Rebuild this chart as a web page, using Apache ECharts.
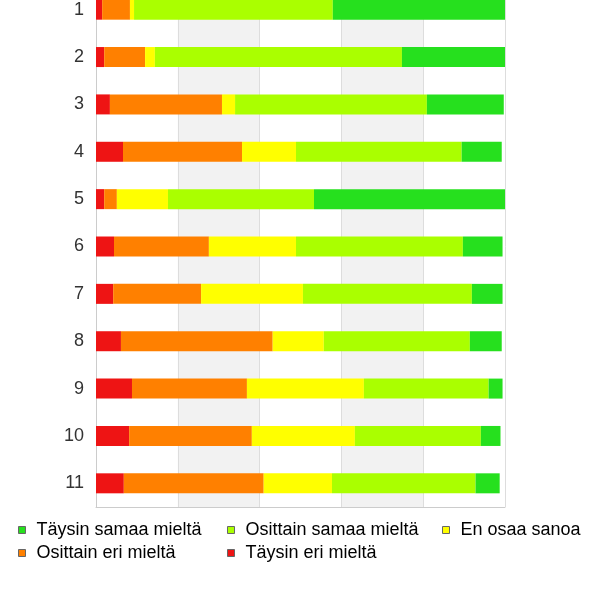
<!DOCTYPE html>
<html>
<head>
<meta charset="utf-8">
<script src="https://cdn.jsdelivr.net/npm/echarts@6/dist/echarts.min.js"></script>
<style>html,body{margin:0;padding:0;background:#fff;overflow:hidden;width:600px;height:600px;position:relative}#c{position:absolute;left:0;top:-14px;width:600px;height:614px}</style>
</head>
<body>
<div id="c"></div>
<script>
const categories = ['1','2','3','4','5','6','7','8','9','10','11'];
const seriesNames = ['Täysin eri mieltä','Osittain eri mieltä','En osaa sanoa','Osittain samaa mieltä','Täysin samaa mieltä'];
const taysinEri     = [1.5, 2.0, 3.4, 6.6, 2.0, 4.4, 4.2, 6.1, 8.8, 8.1, 6.8];
const osittainEri   = [6.8, 10.0, 27.4, 29.1, 3.1, 23.2, 21.5, 37.1, 28.1, 30.0, 34.2];
const enOsaa        = [1.0, 2.4, 3.2, 13.2, 12.5, 21.3, 24.9, 12.5, 28.6, 25.2, 16.7];
const osittainSamaa = [48.6, 60.4, 46.9, 40.5, 35.7, 40.8, 41.3, 35.7, 30.5, 30.8, 35.1];
const taysinSamaa   = [42.1, 25.2, 18.8, 9.8, 46.7, 9.7, 7.5, 7.8, 3.4, 4.8, 5.9];
const xTicks = [0, 20, 40, 60, 80, 100];

const colors = ['#ee1414', '#ff8000', '#ffff00', '#aaff00', '#26e01e'];
const values = [taysinEri, osittainEri, enOsaa, osittainSamaa, taysinSamaa];

const chart = echarts.init(document.getElementById('c'), null, {renderer: 'canvas'});
const legendPos = [
  {name: 'Täysin samaa mieltä', left: 18, top: 535},
  {name: 'Osittain samaa mieltä', left: 227, top: 535},
  {name: 'En osaa sanoa', left: 442, top: 535},
  {name: 'Osittain eri mieltä', left: 18, top: 558},
  {name: 'Täysin eri mieltä', left: 227, top: 558}
];
const option = {
  animation: false,
  backgroundColor: '#ffffff',
  textStyle: {fontFamily: 'Liberation Sans, Arial, sans-serif'},
  grid: {left: 96, right: 95, top: 0, bottom: 93, containLabel: false},
  legend: legendPos.map(p => ({
    data: [p.name],
    left: p.left, top: p.top,
    padding: 0,
    icon: 'rect', itemWidth: 7, itemHeight: 7, itemGap: 11,
    itemStyle: {borderColor: '#666', borderWidth: 1},
    textStyle: {fontSize: 18, color: '#000', fontFamily: 'Liberation Sans, Arial, sans-serif', padding: [0, 0, 8, 6]},
    selectedMode: false
  })),
  xAxis: {
    type: 'value', min: xTicks[0], max: xTicks[xTicks.length - 1], interval: 20,
    axisLabel: {show: false}, axisTick: {show: false},
    axisLine: {show: true, lineStyle: {color: '#cccccc'}},
    splitLine: {show: true, lineStyle: {color: '#dddddd'}},
    splitArea: {show: true, areaStyle: {color: ['rgba(255,255,255,0)', '#f2f2f2']}}
  },
  yAxis: {
    type: 'category', data: categories, inverse: true,
    axisTick: {show: false},
    axisLine: {show: true, lineStyle: {color: '#cccccc'}},
    axisLabel: {fontSize: 18, color: '#333333', margin: 12, fontFamily: 'Liberation Sans, Arial, sans-serif'}
  },
  series: seriesNames.map((n, i) => ({
    name: n, type: 'bar', stack: 'total', data: values[i], barWidth: 20,
    itemStyle: {color: colors[i]}
  }))
};
chart.setOption(option);
</script>
</body>
</html>
